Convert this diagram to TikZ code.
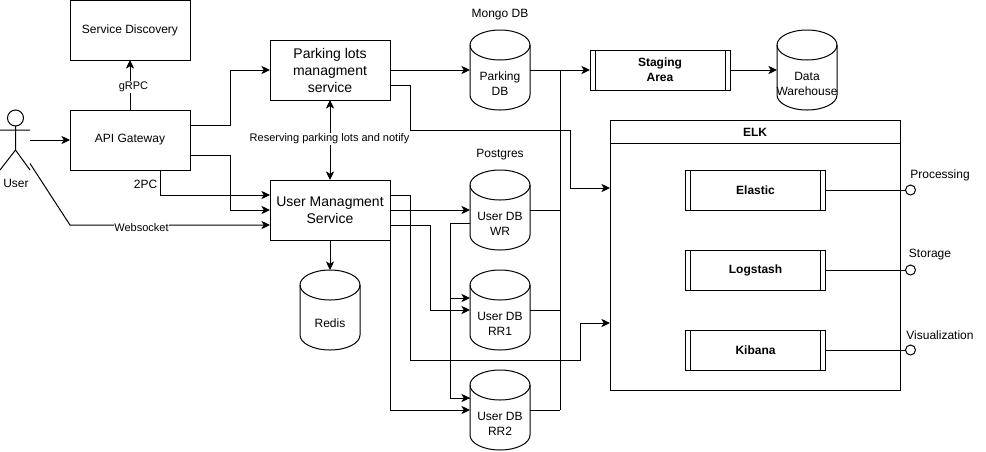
\documentclass[tikz,border=0pt]{standalone}
\usepackage{fontspec}
\setmainfont{Liberation Sans}
\usetikzlibrary{arrows.meta,calc}
\tikzset{
  every node/.style={inner sep=0pt,outer sep=0pt},
  txt/.style={font=\fontsize{9pt}{11.25pt}\selectfont,align=center},
  small/.style={font=\fontsize{8.25pt}{10pt}\selectfont,align=center,fill=white,inner sep=.5pt},
  bigbox/.style={draw,line width=.75pt,minimum width=90pt,minimum height=45pt,align=center,font=\fontsize{10.5pt}{12.75pt}\selectfont},
  plainbox/.style={draw,line width=.75pt,minimum width=90pt,minimum height=45pt,txt},
  subproc/.style={draw,line width=.75pt,minimum width=105pt,minimum height=30pt,font=\fontsize{9pt}{11.25pt}\bfseries\selectfont,align=center,
    path picture={\draw[line width=.75pt] ([xshift=3.75pt]path picture bounding box.north west) -- ([xshift=3.75pt]path picture bounding box.south west);
      \draw[line width=.75pt] ([xshift=-3.75pt]path picture bounding box.north east) -- ([xshift=-3.75pt]path picture bounding box.south east);}},
  dbbox/.style={minimum width=45pt,minimum height=60pt},
  conn/.style={line width=.75pt,-{Stealth[length=6.5pt,width=6.2pt,inset=1.8pt]}},
  link/.style={line width=.75pt},
  dconn/.style={line width=.75pt,{Stealth[length=6.5pt,width=6.2pt,inset=1.8pt]}-{Stealth[length=6.5pt,width=6.2pt,inset=1.8pt]}},
  port/.style={draw,circle,line width=.75pt,minimum size=7.5pt,fill=white},
}
\newcommand{\dbcyl}[4]{%
  \node[dbbox] (#1) at (#2,#3) {};
  \begin{scope}[shift={(#2,#3)}]
    \draw[line width=.75pt] (-30,-25) .. controls (-30,-33.3) and (-16.6,-40) .. (0,-40)
      .. controls (16.6,-40) and (30,-33.3) .. (30,-25)
      -- (30,25) .. controls (30,33.3) and (16.6,40) .. (0,40)
      .. controls (-16.6,40) and (-30,33.3) .. (-30,25) -- cycle;
    \draw[line width=.75pt] (-30,-25) .. controls (-30,-16.7) and (-16.6,-10) .. (0,-10)
      .. controls (16.6,-10) and (30,-16.7) .. (30,-25);
    \node[txt] (#1-text) at (0,13.5) {#4};
  \end{scope}}
\begin{document}
\begin{tikzpicture}[x=.75pt,y=-.75pt]
\useasboundingbox (0,0) rectangle (986,451);
\fill[white] (0,0) rectangle (986,451);

% actor
\node[minimum width=22.5pt,minimum height=45pt] (user) at (15,140) {};
\draw[line width=.75pt] (15.5,118) circle[radius=6pt];
\draw[line width=.75pt] (15.5,126) -- (15.5,150) -- (0,170) (15.5,150) -- (30,170) (0,130) -- (30,130);
\node[txt] (userlabel) at (16,183) {User};

% boxes
\node[plainbox] (sd) at (130,30) {Service Discovery};
\node[plainbox] (api) at (130,140) {API Gateway};
\node[bigbox] (park) at (330,70) {Parking lots\\managment\\service};
\node[bigbox] (um) at (330,210) {User Managment\\Service};

% databases
\dbcyl{parkdb}{500}{70}{Parking\\DB}
\dbcyl{wr}{500}{210}{User DB\\WR}
\dbcyl{rra}{500}{310}{User DB\\RR1}
\dbcyl{rrb}{500}{410}{User DB\\RR2}
\dbcyl{redis}{330}{310}{Redis}
\dbcyl{dw}{807}{70}{Data\\Warehouse}
\node[txt] (mongo) at (500,15) {Mongo DB};
\node[txt] (pg) at (500,155) {Postgres};

% staging
\node[subproc] (stage) at (660,70) {Staging\\Area};

% ELK
\node[draw,line width=.75pt,minimum width=217.5pt,minimum height=202.5pt] (elk) at (755,255) {};
\draw[line width=.75pt] (elk.north west) ++(0,23.5) -- ($(elk.north east)+(0,23.5)$);
\node[txt,font=\fontsize{9pt}{11.25pt}\bfseries\selectfont] (elktitle) at (755,132) {ELK};
\node[subproc] (elastic) at (755.5,190) {Elastic};
\node[subproc] (logstash) at (755.5,270) {Logstash};
\node[subproc] (kibana) at (755.5,350) {Kibana};

% ports
\node[port] (p1) at (910.5,190) {};
\node[port] (p2) at (910.5,270) {};
\node[port] (p3) at (910.5,350) {};
\draw[link] (elastic) -- (p1);
\draw[link] (logstash) -- (p2);
\draw[link] (kibana) -- (p3);
\node[txt] (p1l) at (940,175) {Processing};
\node[txt] (p2l) at (930,255) {Storage};
\node[txt] (p3l) at (940,335) {Visualization};

% connectors on the left
\draw[conn] (user.east) -- (api.west);
\draw[conn] (api) -- (sd);
\node[small] (grpc) at (133.5,87) {gRPC};
\draw[conn] ([shift={(0,-15)}]api.east) -| (230,70) -- (park.west);
\draw[conn] ([shift={(0,15)}]api.east) -| (230,210) -- (um.west);
\draw[conn] ([shift={(30,0)}]api.south) |- ([shift={(0,-15)}]um.west);
\node[txt] (pc) at (145.5,184) {2PC};
\draw[conn] ([shift={(0,23.5)}]user.east) -- (70,225) -- ([shift={(0,15)}]um.west);
\node[small] (ws) at (141.5,228) {Websocket};

% centre
\draw[dconn] (park) -- (um);
\node[small] (res) at (329.5,139) {Reserving parking lots and notify};
\draw[conn] (um) -- (redis.north);

% right-hand side
\draw[conn] (park.east) -- (parkdb.west);
\draw[conn] ([shift={(0,15)}]park.east) -| (410,130) -| (570,188) -- (610,188);
\draw[conn] ([shift={(0,-15)}]um.east) -| (410,360) -| (580,323) -- (610,323);
\draw[conn] (um.east) -- (wr.west);
\draw[conn] ([shift={(0,15)}]um.east) -| (430,310) -- (rra.west);
\draw[conn] (um.south east) -- (390,410) -- (rrb.west);
\draw[link] ([shift={(0,13)}]wr.west) -| (450,398) -- ([shift={(0,-12)}]rrb.west);
\draw[conn] (450,298) -- ([shift={(0,-12)}]rra.west);
\draw[conn] (450,398) -- ([shift={(0,-12)}]rrb.west);
\draw[conn] (parkdb.east) -- (stage.west);
\draw[link] (560,70) -- (560,410);
\draw[link] (wr.east) -- (560,210);
\draw[link] (rra.east) -- (560,310);
\draw[link] (rrb.east) -- (560,410);
\draw[conn] (stage.east) -- (dw.west);
\end{tikzpicture}
\end{document}
